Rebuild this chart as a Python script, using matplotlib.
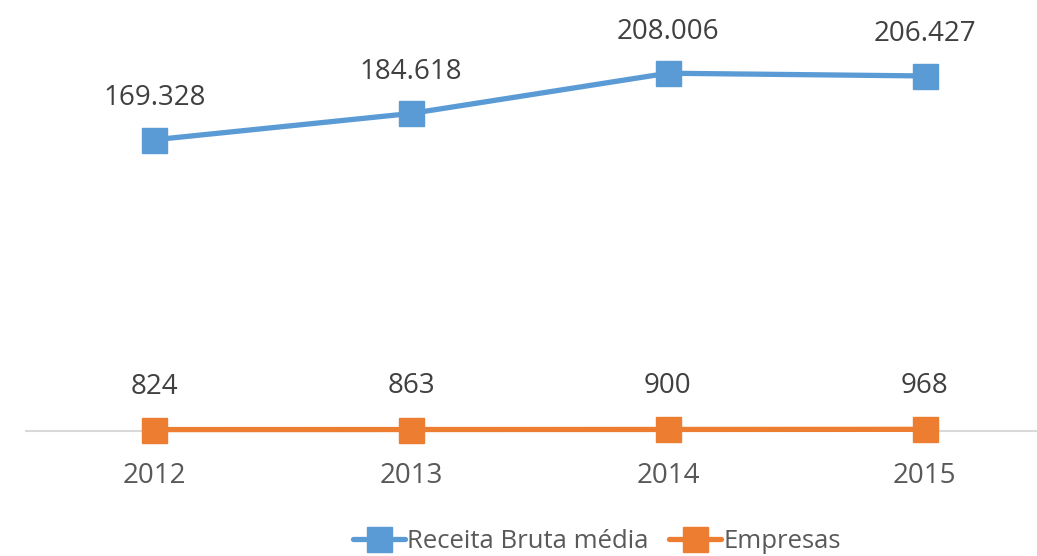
import matplotlib.pyplot as plt

anos = ['2012', '2013', '2014', '2015']
receita = [169328, 184618, 208006, 206427]
empresas = [824, 863, 900, 968]
rot_receita = ['169.328', '184.618', '208.006', '206.427']
rot_empresas = ['824', '863', '900', '968']

plt.rcParams['font.family'] = ['Open Sans', 'DejaVu Sans']

fig = plt.figure(figsize=(10.37, 5.56), dpi=100)
ax = fig.add_axes([26/1037, 1 - 431/556, 1027/1037, 430/556])

x = range(len(anos))
azul = '#5B9BD5'
laranja = '#ED7D31'

ax.plot(x, receita, color=azul, lw=3.8, marker='s', ms=18, label='Receita Bruta média',
        solid_capstyle='round', zorder=3)
ax.plot(x, empresas, color=laranja, lw=3.8, marker='s', ms=18, label='Empresas',
        solid_capstyle='round', zorder=3, clip_on=False)

for i in x:
    ax.annotate(rot_receita[i], (i, receita[i]), xytext=(0, 30), textcoords='offset points',
                ha='center', va='center', fontsize=20, color='#404040')
    ax.annotate(rot_empresas[i], (i, empresas[i]), xytext=(0, 31), textcoords='offset points',
                ha='center', va='center', fontsize=20, color='#404040')

ax.set_xlim(-0.5, 3.5)
ax.set_ylim(0, 250000)
ax.set_xticks(list(x))
ax.set_xticklabels(anos, fontsize=20, color='#595959')
ax.tick_params(axis='x', length=0, pad=22)
ax.set_yticks([])
for s in ['top', 'right', 'left']:
    ax.spines[s].set_visible(False)
ax.spines['bottom'].set_color('#D9D9D9')
ax.spines['bottom'].set_linewidth(1.5)

fig.legend(loc='center', bbox_to_anchor=(597/1037, 1 - 541/556), ncol=2, frameon=False,
           fontsize=18.5, handlelength=2.0, handletextpad=0.1, columnspacing=0.8,
           labelcolor='#595959')

fig.savefig('out.png', dpi=100)
